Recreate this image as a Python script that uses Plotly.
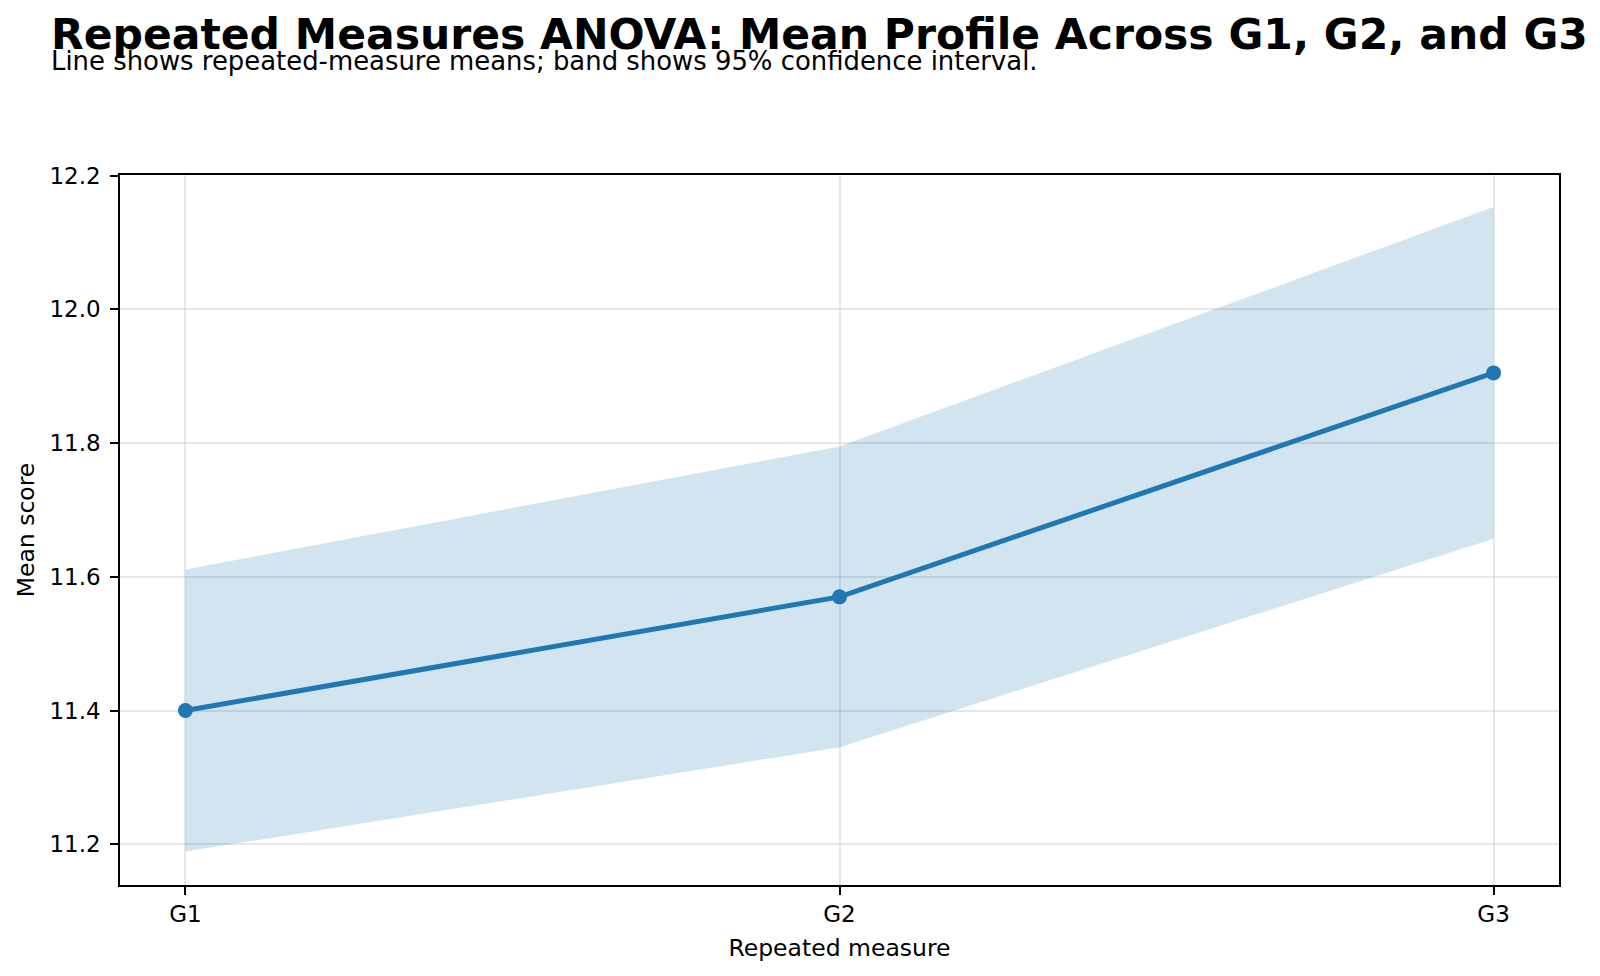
import plotly.graph_objects as go

categories = ["G1", "G2", "G3"]
means = [11.40, 11.57, 11.905]
ci_upper = [11.611, 11.795, 12.153]
ci_lower = [11.189, 11.345, 11.657]
y_ticks = [11.2, 11.4, 11.6, 11.8, 12.0, 12.2]

FONT = "DejaVu Sans"
BLUE = "#1f77b4"

fig = go.Figure()
xs = list(range(len(categories)))
fig.add_trace(go.Scatter(
    x=xs + xs[::-1], y=ci_upper + ci_lower[::-1],
    fill="toself", fillcolor="rgba(31,119,180,0.2)",
    line=dict(width=0), mode="lines", hoverinfo="skip", showlegend=False))
fig.add_trace(go.Scatter(
    x=xs, y=means, mode="lines+markers",
    line=dict(color=BLUE, width=5),
    marker=dict(color=BLUE, size=15), showlegend=False))

PW, PH = 1439, 710
fig.update_layout(
    width=1600, height=976,
    margin=dict(l=120, r=41, t=175, b=91),
    paper_bgcolor="white", plot_bgcolor="white",
    font=dict(family=FONT, color="black", size=22),
    annotations=[
        dict(text="<b>Repeated Measures ANOVA: Mean Profile Across G1, G2, and G3</b>",
             xref="paper", yref="paper", x=(49 - 120) / PW, y=1 + (175 - 8) / PH,
             xanchor="left", yanchor="top", showarrow=False,
             font=dict(family=FONT, size=42.5, color="black")),
        dict(text="Line shows repeated-measure means; band shows 95% confidence interval.",
             xref="paper", yref="paper", x=(49 - 120) / PW, y=1 + (175 - 44) / PH,
             xanchor="left", yanchor="top", showarrow=False,
             font=dict(family=FONT, size=25.9, color="black")),
    ],
)
fig.update_xaxes(
    range=[-0.1, 2.1], tickvals=xs, ticktext=categories,
    showgrid=True, gridcolor="rgba(176,176,176,0.3)", gridwidth=1.5,
    showline=True, linecolor="black", linewidth=1.5, mirror=True,
    ticks="outside", ticklen=8, tickwidth=1.5, tickcolor="black",
    zeroline=False, tickfont=dict(size=23),
    title=dict(text="Repeated measure", font=dict(size=23.5), standoff=13))
fig.update_yaxes(
    range=[11.139, 12.201], tickvals=y_ticks, ticktext=[f"{v:.1f}" for v in y_ticks],
    showgrid=True, gridcolor="rgba(176,176,176,0.3)", gridwidth=1.5,
    showline=True, linecolor="black", linewidth=1.5, mirror=True,
    ticks="outside", ticklen=8, tickwidth=1.5, tickcolor="black",
    ticklabelstandoff=5,
    zeroline=False, tickfont=dict(size=23),
    title=dict(text="Mean score", font=dict(size=23.5), standoff=8))

fig.write_html("out.html")
